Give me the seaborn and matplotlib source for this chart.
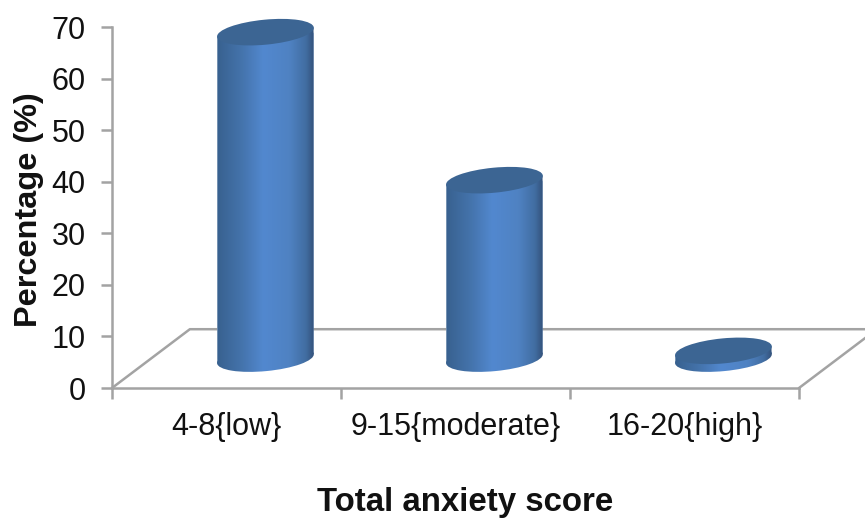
#!/usr/bin/env python3
"""Total anxiety score, 3D style cylinder bars"""

import numpy as np
import matplotlib
matplotlib.use('Agg')
import matplotlib.pyplot as plt
from matplotlib.colors import LinearSegmentedColormap
from matplotlib.patches import Ellipse, Polygon
from matplotlib.transforms import IdentityTransform
import seaborn as sns

categories = ['4-8{low}', '9-15{moderate}', '16-20{high}']
percentages = [63.3, 34.6, 1.5]
y_ticks = [0, 10, 20, 30, 40, 50, 60, 70]

sns.set_style("white")
plt.rcParams['font.family'] = ['Liberation Sans', 'DejaVu Sans']

W, H = 865, 519
LINE = '#a3a3a3'
TEXT = '#111111'
TOP_COLOR = '#3c6593'
BODY = LinearSegmentedColormap.from_list('body', [
    (0.0, '#38618f'), (0.25, '#4473ab'), (0.48, '#5288cf'),
    (0.75, '#4f82c2'), (0.92, '#416da1'), (1.0, '#34527b')])

# floor depth in data units (x: categories, y: percent)
DEPTH_X = 0.34
DEPTH_Y = 11.4
ELL_H = 25
TILT = 5.5

fig = plt.figure(figsize=(W / 100, H / 100), dpi=100)
ax = fig.add_axes([112 / W, 1 - 388 / H, (799 - 112) / W, (388 - 27) / H])

sns.barplot(x=categories, y=percentages, bottom=DEPTH_Y / 2, width=0.42,
            color='#4a7ab5', saturation=1, ax=ax, zorder=3)

ax.set_xlim(-0.5, 2.5)
ax.set_ylim(0, 70)

# floor outline
ax.plot([-0.5, -0.5 + DEPTH_X, 2.5 + DEPTH_X], [0, DEPTH_Y, DEPTH_Y],
        color=LINE, lw=1.8, clip_on=False, zorder=1)
ax.plot([2.5, 2.5 + DEPTH_X], [0, DEPTH_Y], color=LINE, lw=1.8,
        clip_on=False, zorder=1)

# turn every bar into a cylinder
grad = np.linspace(0, 1, 256).reshape(1, -1)
for bar in list(ax.patches):
    bar.set_x(bar.get_x() + DEPTH_X / 2)
    x0, x1 = bar.get_x(), bar.get_x() + bar.get_width()
    y0, y1 = bar.get_y(), bar.get_y() + bar.get_height()
    (px0, py0), (px1, py1) = ax.transData.transform([(x0, y0), (x1, y1)])
    cx = (px0 + px1) / 2
    half_w = (px1 - px0) / 2
    rise = half_w * np.tan(np.radians(TILT))

    body = Polygon([(px0, py0 - rise), (px1, py0 + rise),
                    (px1, py1 + rise), (px0, py1 - rise)],
                   transform=IdentityTransform())
    base = Ellipse((cx, py0), 2 * half_w + 1, ELL_H, angle=TILT,
                   transform=IdentityTransform())
    bar.set_clip_path(body)
    bar.set_clip_box(fig.bbox)

    for clip in (body, base):
        im = ax.imshow(grad, cmap=BODY, aspect='auto', zorder=3,
                       extent=(x0, x1, y0 - 4, y1 + 4), interpolation='bilinear')
        im.set_clip_path(clip)
        im.set_clip_box(fig.bbox)

    lid = Ellipse((cx, py1), 2 * half_w + 1, ELL_H, angle=TILT,
                  transform=IdentityTransform(), facecolor=TOP_COLOR,
                  edgecolor='none', zorder=4, clip_on=False)
    fig.add_artist(lid)

ax.set_xlim(-0.5, 2.5)
ax.set_ylim(0, 70)

# ticks sit between the categories, labels under the centres
ax.set_xticks([-0.5, 0.5, 1.5, 2.5], labels=[])
ax.set_xticks(range(len(categories)), labels=categories, minor=True)
ax.set_yticks(y_ticks)
ax.tick_params(axis='x', which='major', length=8, width=1.8, color=LINE, bottom=True)
ax.tick_params(axis='x', which='minor', length=0, pad=17, labelsize=22, labelcolor=TEXT)
ax.tick_params(axis='y', length=8, width=1.8, color=LINE, left=True, pad=11,
               labelsize=22, labelcolor=TEXT)

sns.despine(ax=ax, top=True, right=True)
for side in ('left', 'bottom'):
    ax.spines[side].set_color(LINE)
    ax.spines[side].set_linewidth(1.8)

fig.text(465 / W, 1 - 511 / H, 'Total anxiety score', fontsize=23.8, fontweight='bold',
         ha='center', va='baseline', color=TEXT)
fig.text(37 / W, 1 - 327 / H, 'Percentage (%)', fontsize=23.4, fontweight='bold',
         rotation=90, ha='left', va='baseline', rotation_mode='anchor', color=TEXT)

fig.savefig('out.png', dpi=100)
